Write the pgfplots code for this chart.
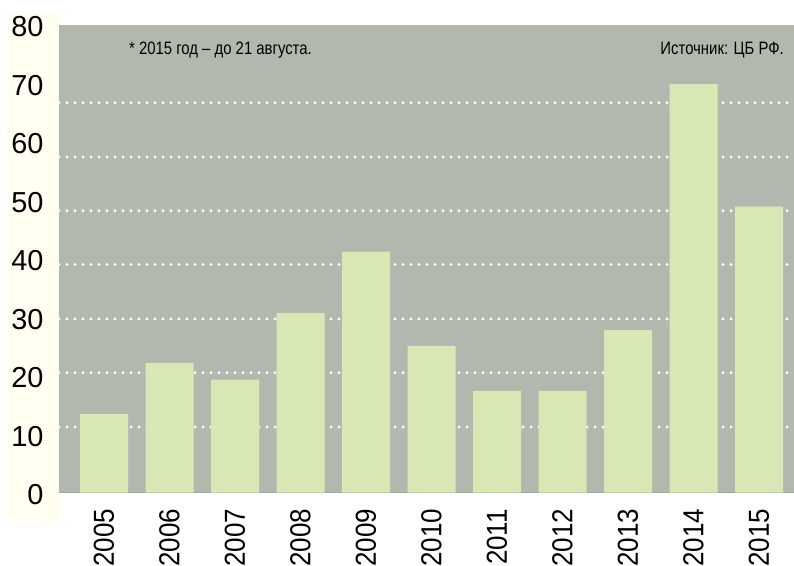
\documentclass[border=0pt]{standalone}
\usepackage{pgfplots}
\pgfplotsset{compat=1.18}
\usepackage{fontspec}
\setmainfont{Liberation Sans}
\newfontfamily\narrowfont[FakeStretch=0.83]{Liberation Sans}
\newfontfamily\xfont[FakeStretch=0.9]{Liberation Sans}
\definecolor{bggray}{HTML}{B2B8AE}
\definecolor{barcol}{HTML}{D8E8B4}
\definecolor{cream}{HTML}{FFFEF0}
\definecolor{linegray}{HTML}{A3A99F}
\begin{document}
\begin{tikzpicture}
\fill[cream] (-52bp,-29.5bp) rectangle (2bp,479.5bp);
\begin{axis}[
  scale only axis,
  width=735bp, height=467.5bp,
  xmin=-0.687, xmax=10.534,
  ymin=0, ymax=80,
  axis background/.style={fill=bggray},
  axis x line*=bottom,
  axis y line*=left,
  x axis line style={-, draw=linegray, line width=1bp},
  y axis line style={draw=none},
  major tick length=0pt,
  xtick={0,1,2,3,4,5,6,7,8,9,10},
  xticklabels={2005,2006,2007,2008,2009,2010,2011,2012,2013,2014,2015},
  xticklabel style={font=\xfont\fontsize{29}{29}\selectfont, rotate=90, anchor=east, xshift=-13bp},
  ytick={0,10,20,30,40,50,60,70,80},
  yticklabel style={font=\fontsize{29}{29}\selectfont, anchor=east, xshift=-12bp, yshift=-2bp},
  /pgf/number format/assume math mode=true,
  extra y ticks={11.2,20.5,29.7,39.0,48.2,57.4,66.7},
  extra y tick labels={},
  extra y tick style={grid=major, major grid style={white, line width=3.3bp, line cap=round, dash pattern=on 0pt off 8bp, dash phase=0bp}},
  ybar, bar width=48bp,
]
\addplot[fill=barcol, draw=none] coordinates {
  (0,13.4) (1,22.2) (2,19.3) (3,30.7) (4,41.2) (5,25.1)
  (6,17.4) (7,17.4) (8,27.8) (9,69.9) (10,48.9)
};
\end{axis}
\node[anchor=west, inner sep=0pt, font=\narrowfont\fontsize{18}{18}\selectfont] at (70bp,442.5bp) {* 2015 год – до 21 августа.};
\node[anchor=east, inner sep=0pt, font=\narrowfont\fontsize{18}{18}\selectfont] at (725bp,442.5bp) {Источник: ЦБ РФ.};
\pgfresetboundingbox
\useasboundingbox (-59bp,-73.5bp) rectangle (735bp,492.5bp);
\end{tikzpicture}
\end{document}
